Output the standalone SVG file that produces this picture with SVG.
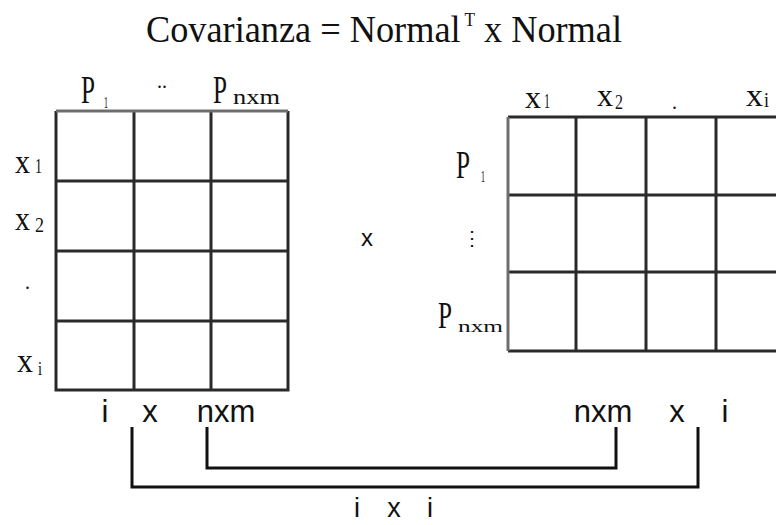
<svg xmlns="http://www.w3.org/2000/svg" width="776" height="525" viewBox="0 0 776 525">
<style>
.serif{font-family:"Liberation Serif","Times New Roman",serif;fill:#111}
.sans{font-family:"Liberation Sans",Arial,sans-serif;fill:#111}
.grid{stroke:#2a2a2a;stroke-width:3;fill:none}
.gridl{stroke:#6e6e6e;stroke-width:3;fill:none}
.br{stroke:#111;stroke-width:3;fill:none}
</style>
<rect width="776" height="525" fill="#fff"/>
<g id="title">
<text class="serif" x="146" y="42" font-size="38" textLength="476" lengthAdjust="spacingAndGlyphs">Covarianza = Normal<tspan font-size="18" dx="4" dy="-16">T</tspan><tspan dy="16"> x Normal</tspan></text>
</g>
<g id="matrix-left">
<path class="grid" d="M56 111V390H288V111M134 111V390M211 111V390M56 181H288M56 251H288M56 321H288"/>
<path class="gridl" d="M56 111H288"/>
<text class="serif" x="81" y="103" font-size="40" textLength="14" lengthAdjust="spacingAndGlyphs">P</text>
<text class="serif" x="104" y="108" font-size="16" textLength="4" lengthAdjust="spacingAndGlyphs">1</text>
<text class="serif" x="157" y="88" font-size="20" fill="#555">..</text>
<text class="serif" x="213" y="103" font-size="40" textLength="14" lengthAdjust="spacingAndGlyphs">P</text>
<text class="serif" x="233" y="104" font-size="20" textLength="47" lengthAdjust="spacingAndGlyphs" fill="#333">nxm</text>
<text class="serif" x="15" y="173" font-size="34" textLength="15" lengthAdjust="spacingAndGlyphs">x</text>
<text class="serif" x="35" y="173" font-size="22" textLength="7" lengthAdjust="spacingAndGlyphs">1</text>
<text class="serif" x="15" y="230" font-size="34" textLength="15" lengthAdjust="spacingAndGlyphs">x</text>
<text class="serif" x="35" y="232" font-size="22" textLength="9" lengthAdjust="spacingAndGlyphs">2</text>
<text class="serif" x="25" y="289" font-size="20" fill="#555">.</text>
<text class="serif" x="17" y="372" font-size="34" textLength="16" lengthAdjust="spacingAndGlyphs">x</text>
<text class="serif" x="38" y="375" font-size="18" textLength="4" lengthAdjust="spacingAndGlyphs">i</text>
</g>
<g id="times">
<text class="sans" x="367" y="246" font-size="24" text-anchor="middle" fill="#333">x</text>
</g>
<g id="matrix-right">
<path class="grid" d="M508 117H780M508 195H780M508 272H780M508 351H780M576 117V351M646 117V351M716 117V351"/>
<path class="gridl" d="M508 117V351"/>
<text class="serif" x="525" y="108" font-size="32" textLength="16" lengthAdjust="spacingAndGlyphs">x</text>
<text class="serif" x="544" y="108" font-size="20" textLength="6" lengthAdjust="spacingAndGlyphs">1</text>
<text class="serif" x="597" y="106" font-size="32" textLength="16" lengthAdjust="spacingAndGlyphs">x</text>
<text class="serif" x="615" y="109" font-size="20" textLength="8" lengthAdjust="spacingAndGlyphs">2</text>
<text class="serif" x="672" y="109" font-size="20" fill="#555">.</text>
<text class="serif" x="746" y="106" font-size="32" textLength="17" lengthAdjust="spacingAndGlyphs">x</text>
<text class="serif" x="764" y="107" font-size="22" textLength="5" lengthAdjust="spacingAndGlyphs">i</text>
<text class="serif" x="456" y="178" font-size="40" textLength="14" lengthAdjust="spacingAndGlyphs">P</text>
<text class="serif" x="481" y="182" font-size="16" textLength="4" lengthAdjust="spacingAndGlyphs">1</text>
<text class="sans" x="472" y="245" font-size="20" text-anchor="middle" fill="#555">⋮</text>
<text class="serif" x="438" y="328" font-size="38" textLength="14" lengthAdjust="spacingAndGlyphs">P</text>
<text class="serif" x="458" y="332" font-size="17" textLength="45" lengthAdjust="spacingAndGlyphs" fill="#333">nxm</text>
</g>
<g id="dims">
<text class="sans" x="105" y="422" font-size="31" text-anchor="middle">i</text>
<text class="sans" x="150" y="422" font-size="31" text-anchor="middle">x</text>
<text class="sans" x="226" y="422" font-size="31" text-anchor="middle">nxm</text>
<text class="sans" x="603" y="422" font-size="31" text-anchor="middle">nxm</text>
<text class="sans" x="677" y="422" font-size="31" text-anchor="middle">x</text>
<text class="sans" x="725" y="422" font-size="31" text-anchor="middle">i</text>
<text class="sans" x="357" y="517" font-size="27" text-anchor="middle">i</text>
<text class="sans" x="394" y="517" font-size="27" text-anchor="middle">x</text>
<text class="sans" x="430" y="517" font-size="27" text-anchor="middle">i</text>
</g>
<g id="connectors">
<path class="br" d="M132 427V487H698V427"/>
<path class="br" d="M207 427V468H616V427"/>
</g>
</svg>
